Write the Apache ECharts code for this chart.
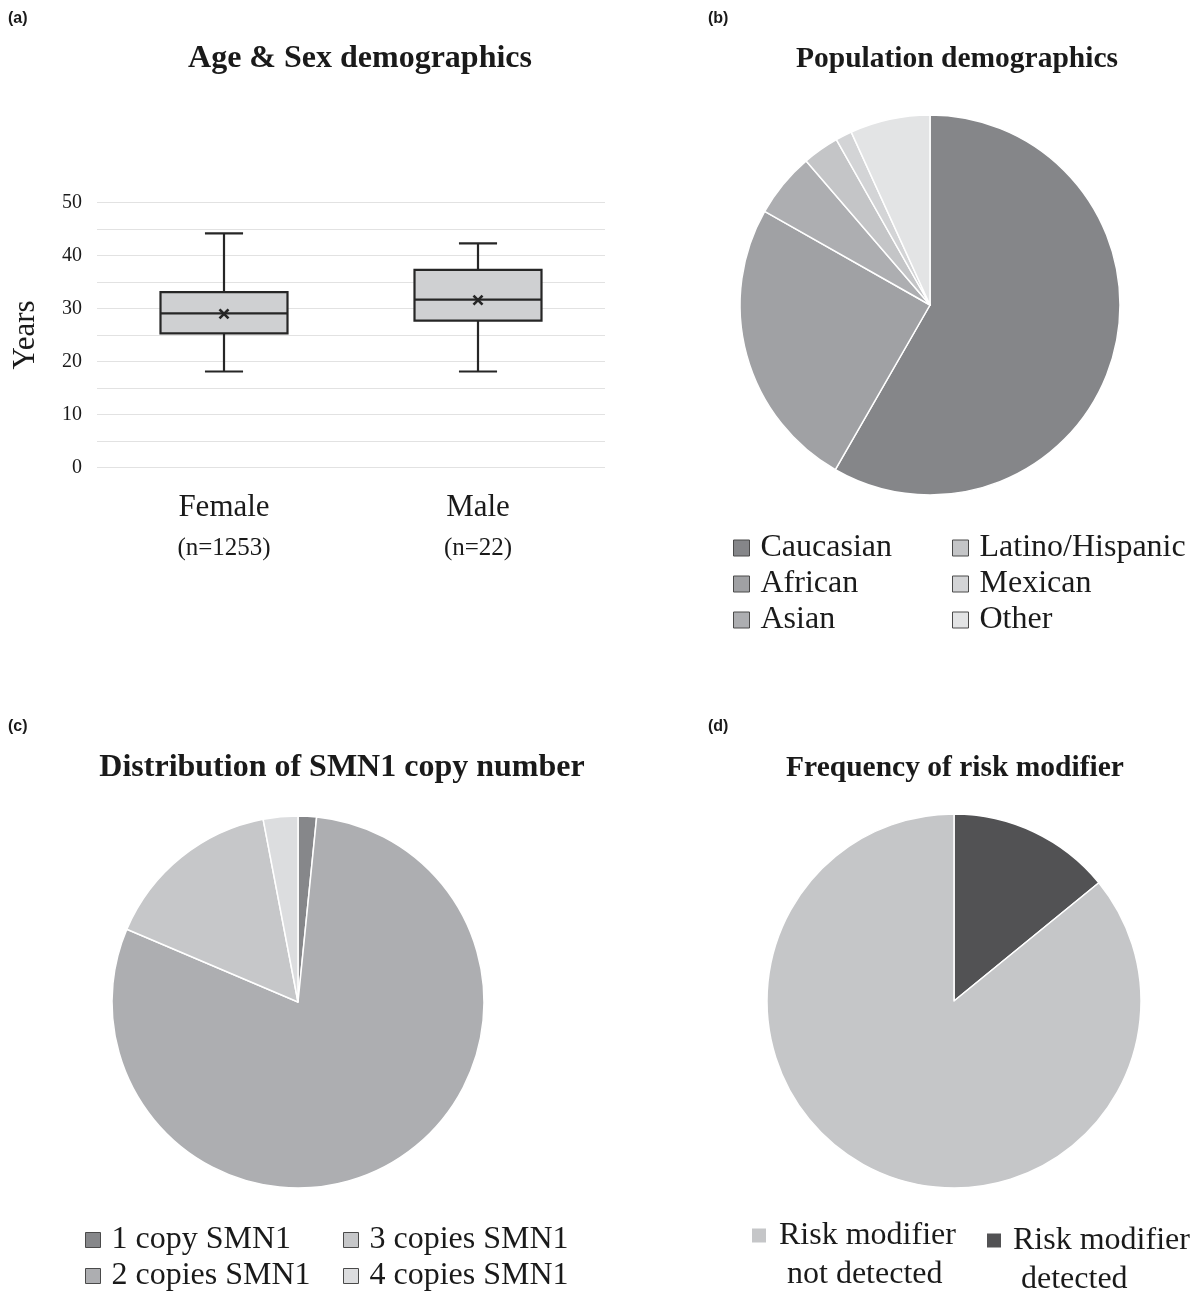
<!DOCTYPE html>
<html>
<head>
<meta charset="utf-8">
<title>Demographics</title>
<script src="https://cdn.jsdelivr.net/npm/echarts@6/dist/echarts.min.js"></script>
<style>
  html, body { margin: 0; padding: 0; background: #fff; }
  #main { width: 1194px; height: 1295px; }
</style>
</head>
<body>
<div id="main"></div>
<script>
// (a) age by sex
var sexCategories = ['Female', 'Male'];
var sampleSizes = ['(n=1253)', '(n=22)'];
var ageMin = [18.1, 18.1];
var ageQ1 = [25.3, 27.7];
var ageMedian = [29.1, 31.7];
var ageQ3 = [33.1, 37.3];
var ageMax = [44.2, 42.3];
var ageMean = [29.0, 31.6];
var yearTicks = [0, 10, 20, 30, 40, 50];

// (b) population, percent
var popNames = ['Caucasian', 'African', 'Asian', 'Latino/Hispanic', 'Mexican', 'Other'];
var popValues = [58.3, 24.9, 5.5, 3.1, 1.4, 6.8];
var popColors = ['#858689', '#a0a1a4', '#adaeb1', '#c4c5c7', '#d3d4d6', '#e3e4e5'];

// (c) SMN1 copies, percent
var smnNames = ['1 copy SMN1', '2 copies SMN1', '3 copies SMN1', '4 copies SMN1'];
var smnValues = [1.6, 79.8, 15.6, 3.0];
var smnColors = ['#86878a', '#adaeb1', '#c6c7c9', '#dcdddf'];

// (d) risk modifier, percent
var riskNames = ['Risk modifier detected', 'Risk modifier not detected'];
var riskValues = [14.1, 85.9];
var riskColors = ['#525254', '#c5c6c8'];

var SERIF = "'Liberation Serif', 'Times New Roman', serif";
var INK = '#1a1a1a';

var myChart = echarts.init(document.getElementById('main'));

function buildPie(names, values, colors) {
    var out = [];
    for (var i = 0; i < names.length; i++) {
        out.push({ name: names[i], value: values[i], itemStyle: { color: colors[i] } });
    }
    return out;
}

var boxData = [];
for (var i = 0; i < sexCategories.length; i++) {
    boxData.push([i, ageMin[i], ageQ1[i], ageMedian[i], ageQ3[i], ageMax[i], ageMean[i]]);
}

// box, whiskers with short caps, median and an x for the mean
function renderBox(params, api) {
    var idx = api.value(0);
    var x = api.coord([idx, 0])[0];
    var y = function (d) { return api.coord([idx, api.value(d)])[1]; };
    var half = api.size([1, 0])[0] * 0.25;
    var cap = half * 0.3;
    var ln = { stroke: '#262626', lineWidth: 2.2 };
    var ym = y(6), m = 4.5;
    return {
        type: 'group',
        children: [
            { type: 'line', shape: { x1: x, y1: y(5), x2: x, y2: y(4) }, style: ln },
            { type: 'line', shape: { x1: x, y1: y(2), x2: x, y2: y(1) }, style: ln },
            { type: 'line', shape: { x1: x - cap, y1: y(5), x2: x + cap, y2: y(5) }, style: ln },
            { type: 'line', shape: { x1: x - cap, y1: y(1), x2: x + cap, y2: y(1) }, style: ln },
            { type: 'rect', shape: { x: x - half, y: y(4), width: half * 2, height: y(2) - y(4) },
              style: { fill: '#cfd0d2', stroke: '#262626', lineWidth: 2.2 } },
            { type: 'line', shape: { x1: x - half, y1: y(3), x2: x + half, y2: y(3) }, style: ln },
            { type: 'line', shape: { x1: x - m, y1: ym - m, x2: x + m, y2: ym + m }, style: { stroke: '#262626', lineWidth: 2.6 } },
            { type: 'line', shape: { x1: x - m, y1: ym + m, x2: x + m, y2: ym - m }, style: { stroke: '#262626', lineWidth: 2.6 } }
        ]
    };
}

function panelTitle(text, x, y, size) {
    return { text: text, left: x, top: y, textAlign: 'center', padding: 0,
             textStyle: { fontFamily: SERIF, fontSize: size, fontWeight: 'bold', color: INK } };
}
function panelTag(text, x, y) {
    return { text: text, left: x, top: y, padding: 0,
             textStyle: { fontFamily: "'Liberation Sans', Arial, sans-serif", fontSize: 16, fontWeight: 'bold', color: INK } };
}

// one legend per entry so the columns line up like the original
function legendItem(name, left, top, size, fontSize, lineH, padL, extra) {
    var lg = {
        data: [name], orient: 'vertical', left: left, top: top, padding: 0,
        itemWidth: size, itemHeight: size, itemGap: 0, icon: 'rect',
        selectedMode: false,
        itemStyle: { borderColor: '#4a4a4a', borderWidth: 1 },
        textStyle: { fontFamily: SERIF, fontSize: fontSize, lineHeight: lineH, color: INK, padding: [0, 0, 0, padL] }
    };
    if (extra) { for (var k in extra) lg[k] = extra[k]; }
    return lg;
}

var legends = [];
var popLeft = [733, 733, 733, 952, 952, 952];
var popTop = [530, 566, 602, 530, 566, 602];
for (var p = 0; p < popNames.length; p++) {
    legends.push(legendItem(popNames[p], popLeft[p], popTop[p], 16, 32, 36, 6));
}
var smnLeft = [85, 85, 343, 343];
var smnTop = [1222, 1258, 1222, 1258];
for (var s = 0; s < smnNames.length; s++) {
    legends.push(legendItem(smnNames[s], smnLeft[s], smnTop[s], 15, 32, 36, 6));
}
legends.push(legendItem('Risk modifier not detected', 752, 1177, 14, 32, 39, 8, {
    itemStyle: { borderWidth: 0 },
    formatter: function () { return '\nRisk modifier\n not detected'; }
}));
legends.push(legendItem('Risk modifier detected', 987, 1182, 14, 32, 39, 7, {
    itemStyle: { borderWidth: 0 },
    formatter: function () { return '\nRisk modifier\n detected'; }
}));

var option = {
    animation: false,
    backgroundColor: '#fff',
    title: [
        panelTag('(a)', 8, 11), panelTag('(b)', 708, 11),
        panelTag('(c)', 8, 719), panelTag('(d)', 708, 719),
        panelTitle('Age & Sex demographics', 360, 43, 32),
        panelTitle('Population demographics', 957, 44, 29.5),
        panelTitle('Distribution of SMN1 copy number', 342, 752, 32),
        panelTitle('Frequency of risk modifier', 955, 753, 29.5)
    ],
    legend: legends,
    grid: { left: 97, right: 589, top: 202.7, bottom: 827.7 },
    xAxis: {
        type: 'category',
        data: sexCategories,
        axisLine: { show: false },
        axisTick: { show: false },
        axisLabel: {
            margin: 21,
            formatter: function (v, i) { return '{a|' + v + '}\n{b|' + sampleSizes[i] + '}'; },
            rich: {
                a: { fontFamily: SERIF, fontSize: 31, lineHeight: 40, color: INK },
                b: { fontFamily: SERIF, fontSize: 25, lineHeight: 40, color: INK }
            }
        }
    },
    yAxis: {
        type: 'value',
        min: 0, max: 50, interval: 5,
        name: 'Years',
        nameLocation: 'middle',
        nameGap: 56,
        nameTextStyle: { fontFamily: SERIF, fontSize: 31, color: INK },
        axisLine: { show: false },
        axisTick: { show: false },
        splitLine: { lineStyle: { color: '#e2e2e2', width: 1 } },
        axisLabel: {
            margin: 15,
            fontFamily: SERIF, fontSize: 20, color: INK,
            formatter: function (v) { return yearTicks.indexOf(v) >= 0 ? v : ''; }
        }
    },
    series: [
        {
            name: 'Age',
            type: 'custom',
            renderItem: renderBox,
            encode: { x: 0, y: [1, 2, 3, 4, 5, 6] },
            data: boxData
        },
        {
            name: 'Population',
            type: 'pie',
            center: [930, 305],
            radius: 190,
            startAngle: 90,
            label: { show: false },
            labelLine: { show: false },
            emphasis: { disabled: true },
            itemStyle: { borderColor: '#fff', borderWidth: 1.5 },
            data: buildPie(popNames, popValues, popColors)
        },
        {
            name: 'SMN1',
            type: 'pie',
            center: [298, 1002],
            radius: 186,
            startAngle: 90,
            label: { show: false },
            labelLine: { show: false },
            emphasis: { disabled: true },
            itemStyle: { borderColor: '#fff', borderWidth: 1.5 },
            data: buildPie(smnNames, smnValues, smnColors)
        },
        {
            name: 'Risk',
            type: 'pie',
            center: [954, 1001],
            radius: 187,
            startAngle: 90,
            label: { show: false },
            labelLine: { show: false },
            emphasis: { disabled: true },
            itemStyle: { borderColor: '#fff', borderWidth: 1.5 },
            data: buildPie(riskNames, riskValues, riskColors)
        }
    ]
};

myChart.setOption(option);
</script>
</body>
</html>
